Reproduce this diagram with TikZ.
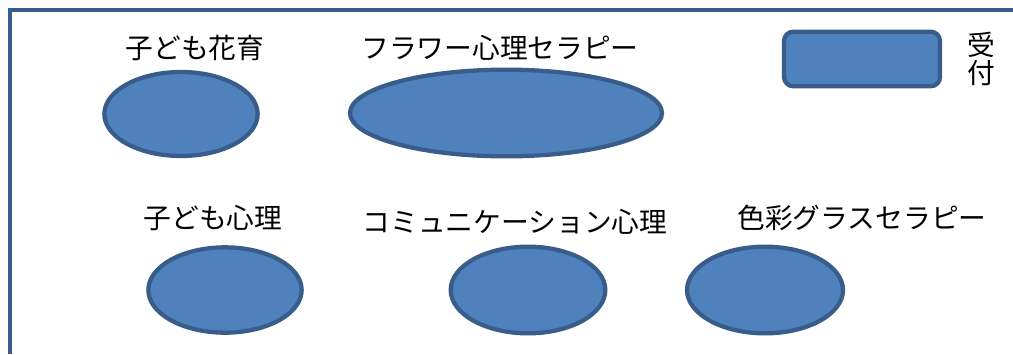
\documentclass[tikz,border=0pt]{standalone}
\usepackage{fontspec}
\usepackage{xcolor}
\usetikzlibrary{positioning, shapes.geometric}
\newfontfamily\cjk{Noto Sans CJK JP}
\definecolor{roomFill}{HTML}{4F81BD}
\definecolor{roomLine}{HTML}{385D8A}

\begin{document}
\begin{tikzpicture}[
  x=0.75pt, y=-0.75pt,
  font=\cjk\fontsize{20.8pt}{21pt}\selectfont,
  blob/.style={ellipse, draw=roomLine, fill=roomFill, line width=3.2pt, inner sep=0pt},
  desk/.style={rectangle, rounded corners=7pt, draw=roomLine, fill=roomFill,
               line width=3.2pt, inner sep=0pt},
  lbl/.style={inner sep=0pt, text=black},
  wall/.style={draw=roomLine, line width=3pt},
]
\useasboundingbox (0,0) rectangle (1013,354);

% walls
\coordinate (corner) at (10,10);
\coordinate (wallE) at (1013,10);
\coordinate (wallS) at (10,354);
\draw[wall] (wallE) -- (corner) -- (wallS);

% top row
\node[lbl] (hanaiku) at (195,48) {子ども花育};
\node[blob, minimum width=115pt, minimum height=63pt] (hanaikuB) at (181,114) {};
\node[lbl] (flower) at (500,48) {フラワー心理セラピー};
\node[blob, minimum width=234pt, minimum height=65pt] (flowerB) at (506,113) {};
\node[desk, minimum width=117pt, minimum height=41pt] (desk) at (862,59) {};
\node[lbl, align=center, right=19pt of desk] (uketsuke) {受\\付};

% bottom row
\node[lbl] (kokoro) at (213,218) {子ども心理};
\node[blob, minimum width=115pt, minimum height=64pt] (kokoroB) at (225,290) {};
\node[lbl] (comm) at (515,222) {コミュニケーション心理};
\node[blob, minimum width=116pt, minimum height=65pt] (commB) at (528,290) {};
\node[lbl] (glass) at (862,218) {色彩グラスセラピー};
\node[blob, minimum width=117pt, minimum height=65pt] (glassB) at (765,290) {};
\end{tikzpicture}
\end{document}
